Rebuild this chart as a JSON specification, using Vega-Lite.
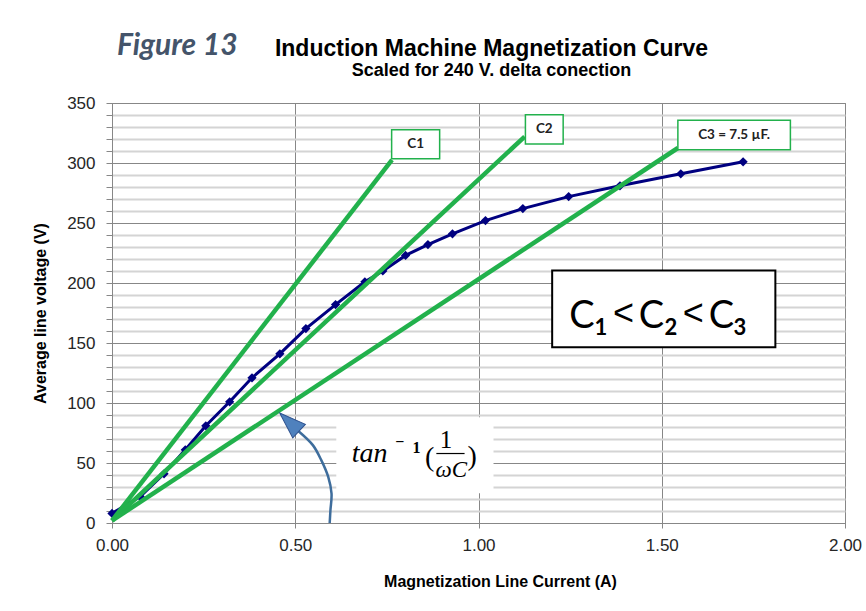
{
  "$schema": "https://vega.github.io/schema/vega-lite/v6.json",
  "autosize": "none",
  "width": 733,
  "height": 420,
  "padding": {"left": 112, "top": 103, "right": 21, "bottom": 88},
  "background": "white",
  "config": {
    "view": {"stroke": "#878787", "strokeWidth": 1},
    "axis": {"labelFont": "Liberation Sans", "titleFont": "Liberation Sans", "labelColor": "#262626", "titleColor": "#000000"}
  },
  "title": {
    "text": "Induction Machine Magnetization Curve",
    "subtitle": "Scaled for 240 V. delta conection",
    "font": "Liberation Sans",
    "fontSize": 23,
    "fontWeight": "bold",
    "color": "#000000",
    "subtitleFont": "Liberation Sans",
    "subtitleFontSize": 18,
    "subtitleFontWeight": "bold",
    "subtitleColor": "#000000",
    "subtitlePadding": 1,
    "anchor": "middle",
    "dx": 13,
    "offset": -49
  },
  "datasets": {
    "curve": [
      {"I": 0.00, "V": 8},
      {"I": 0.077, "V": 22},
      {"I": 0.142, "V": 41},
      {"I": 0.200, "V": 61},
      {"I": 0.256, "V": 81},
      {"I": 0.321, "V": 101},
      {"I": 0.382, "V": 121},
      {"I": 0.458, "V": 141},
      {"I": 0.529, "V": 162},
      {"I": 0.610, "V": 182},
      {"I": 0.690, "V": 201},
      {"I": 0.739, "V": 210},
      {"I": 0.801, "V": 223},
      {"I": 0.862, "V": 232},
      {"I": 0.929, "V": 241},
      {"I": 1.019, "V": 252},
      {"I": 1.121, "V": 262},
      {"I": 1.246, "V": 272},
      {"I": 1.386, "V": 281},
      {"I": 1.552, "V": 291},
      {"I": 1.722, "V": 301}
    ],
    "lines": [
      {"series": "C1", "I": 0, "V": 2},
      {"series": "C1", "I": 0.764, "V": 302.6},
      {"series": "C2", "I": 0, "V": 2},
      {"series": "C2", "I": 1.126, "V": 322},
      {"series": "C3", "I": 0, "V": 2},
      {"series": "C3", "I": 1.544, "V": 312.5}
    ],
    "labels": [
      {"label": "C1", "I1": 0.763, "I2": 0.894, "V1": 303.6, "V2": 327.8, "Ic": 0.8285, "Vc": 315.7},
      {"label": "C2", "I1": 1.128, "I2": 1.231, "V1": 315.9, "V2": 340.3, "Ic": 1.1795, "Vc": 328.1},
      {"label": "C3 = 7.5 µF.", "I1": 1.544, "I2": 1.851, "V1": 311.1, "V2": 335.6, "Ic": 1.6975, "Vc": 323.4}
    ],
    "bigbox": [{"I1": 1.201, "I2": 1.810, "V1": 146.4, "V2": 210.4}],
    "bigC": [
      {"t": "C", "I": 1.282, "V": 162.5},
      {"t": "C", "I": 1.472, "V": 162.5},
      {"t": "C", "I": 1.663, "V": 162.5}
    ],
    "bigLt": [
      {"t": "<", "I": 1.396, "V": 165},
      {"t": "<", "I": 1.586, "V": 165}
    ],
    "subs": [
      {"t": "1", "I": 1.334, "V": 156.5},
      {"t": "2", "I": 1.525, "V": 156.5},
      {"t": "3", "I": 1.713, "V": 156.5}
    ],
    "whitebox": [{"I1": 0.612, "I2": 1.041, "V1": 24.8, "V2": 88.2}],
    "arrow": [
      {"k": 0, "I": 0.509, "V": 76.5},
      {"k": 1, "I": 0.548, "V": 64.9},
      {"k": 2, "I": 0.571, "V": 52.4},
      {"k": 3, "I": 0.590, "V": 38.4},
      {"k": 4, "I": 0.599, "V": 24.5},
      {"k": 5, "I": 0.596, "V": 10.6},
      {"k": 6, "I": 0.594, "V": 0}
    ],
    "arrowhead": [{"I": 0.484, "V": 84.1}],
    "tanmain": [{"t": "tan", "I": 0.703, "V": 50.9}],
    "tansup": [
      {"t": "−", "I": 0.785, "V": 67.1},
      {"t": "1", "I": 0.8306, "V": 62.5}
    ],
    "parens": [
      {"t": "(", "I": 0.867, "V": 53.8},
      {"t": ")", "I": 0.983, "V": 55.3}
    ],
    "num": [{"t": "1", "I": 0.911, "V": 62.1}],
    "den": [{"t": "ωC", "I": 0.926, "V": 38.4}],
    "fracbar": [{"I1": 0.885, "I2": 0.962, "V": 57.9}],
    "fig": [{"t": "Figure 13", "I": 0.178, "V": 390.4}]
  },
  "encoding": {
    "x": {"field": "I", "type": "quantitative", "scale": {"domain": [0, 2], "nice": false}},
    "y": {"field": "V", "type": "quantitative", "scale": {"domain": [0, 350], "nice": false}}
  },
  "layer": [
    {
      "data": {"name": "curve"},
      "mark": {"type": "line", "color": "#000080", "strokeWidth": 3, "point": {"shape": "diamond", "size": 85, "filled": true, "color": "#000080"}},
      "encoding": {
        "x": {
          "field": "I", "type": "quantitative",
          "scale": {"domain": [0, 2], "nice": false},
          "axis": {
            "values": [0, 0.5, 1, 1.5, 2], "format": ".2f",
            "title": "Magnetization Line Current (A)",
            "titleFontSize": 16, "titleFontWeight": "bold",
            "titleX": 388, "titleY": 58, "titleBaseline": "middle",
            "labelFontSize": 17, "labelPadding": 9, "labelFlush": false, "labelOverlap": false,
            "tickSize": 5, "tickColor": "#878787",
            "domainColor": "#878787",
            "grid": true, "gridColor": "#878787", "gridWidth": 1
          }
        },
        "y": {
          "field": "V", "type": "quantitative",
          "scale": {"domain": [0, 350], "nice": false},
          "axis": {
            "values": [0,10,20,30,40,50,60,70,80,90,100,110,120,130,140,150,160,170,180,190,200,210,220,230,240,250,260,270,280,290,300,310,320,330,340,350],
            "tickCount": 40,
            "labelExpr": "datum.value % 50 === 0 ? datum.label : ''",
            "labelFlush": false, "labelOverlap": false,
            "title": "Average line voltage (V)",
            "titleFontSize": 16, "titleFontWeight": "bold", "titlePadding": 18,
            "labelFontSize": 17, "labelPadding": 11,
            "tickSize": 6, "tickColor": "#878787",
            "domainColor": "#878787",
            "grid": true,
            "gridColor": {"condition": {"test": "datum.value % 50 === 0", "value": "#878787"}, "value": "#d4d4d4"},
            "gridWidth": {"condition": {"test": "datum.value % 50 === 0", "value": 1}, "value": 2}
          }
        }
      }
    },
    {
      "data": {"name": "whitebox"},
      "mark": {"type": "rect", "fill": "white"},
      "encoding": {
        "x": {"field": "I1", "type": "quantitative"},
        "x2": {"field": "I2"},
        "y": {"field": "V1", "type": "quantitative"},
        "y2": {"field": "V2"}
      }
    },
    {
      "data": {"name": "lines"},
      "mark": {"type": "line", "color": "#22b14c", "strokeCap": "butt"},
      "encoding": {
        "detail": {"field": "series", "type": "nominal"},
        "strokeWidth": {"field": "series", "type": "nominal", "scale": {"domain": ["C1", "C2", "C3"], "range": [4.5, 4.5, 3]}, "legend": null}
      }
    },
    {
      "data": {"name": "labels"},
      "mark": {"type": "rect", "fill": "white", "stroke": "#22b14c", "strokeWidth": 1.5},
      "encoding": {
        "x": {"field": "I1", "type": "quantitative"},
        "x2": {"field": "I2"},
        "y": {"field": "V1", "type": "quantitative"},
        "y2": {"field": "V2"}
      }
    },
    {
      "data": {"name": "labels"},
      "mark": {"type": "text", "font": "Lato", "fontSize": 13.5, "fontWeight": "bold", "color": "#222222", "align": "center", "baseline": "middle"},
      "encoding": {
        "x": {"field": "Ic", "type": "quantitative"},
        "y": {"field": "Vc", "type": "quantitative"},
        "text": {"field": "label"}
      }
    },
    {
      "data": {"name": "bigbox"},
      "mark": {"type": "rect", "fill": "white", "stroke": "#000000", "strokeWidth": 2},
      "encoding": {
        "x": {"field": "I1", "type": "quantitative"},
        "x2": {"field": "I2"},
        "y": {"field": "V1", "type": "quantitative"},
        "y2": {"field": "V2"}
      }
    },
    {
      "data": {"name": "bigC"},
      "mark": {"type": "text", "font": "Lato", "fontSize": 38, "color": "#000000", "align": "center", "baseline": "alphabetic"},
      "encoding": {"text": {"field": "t"}}
    },
    {
      "data": {"name": "bigLt"},
      "mark": {"type": "text", "font": "Liberation Sans", "fontSize": 36, "color": "#000000", "align": "center", "baseline": "alphabetic"},
      "encoding": {"text": {"field": "t"}}
    },
    {
      "data": {"name": "subs"},
      "mark": {"type": "text", "font": "Lato", "fontSize": 22, "fontWeight": "bold", "color": "#000000", "align": "center", "baseline": "alphabetic"},
      "encoding": {"text": {"field": "t"}}
    },
    {
      "data": {"name": "arrow"},
      "mark": {"type": "line", "color": "#3e6d9c", "strokeWidth": 2.5, "interpolate": "catmull-rom"},
      "encoding": {"order": {"field": "k", "type": "quantitative"}}
    },
    {
      "data": {"name": "arrowhead"},
      "mark": {"type": "point", "shape": "M0,-1L0.7,1L-0.7,1Z", "size": 700, "angle": 313, "filled": true, "fill": "#4f81bd", "stroke": "#2f528f", "strokeWidth": 1, "opacity": 1}
    },
    {
      "data": {"name": "tanmain"},
      "mark": {"type": "text", "font": "Liberation Serif", "fontStyle": "italic", "fontSize": 28, "color": "#000000", "align": "center", "baseline": "alphabetic"},
      "encoding": {"text": {"field": "t"}}
    },
    {
      "data": {"name": "tansup"},
      "mark": {"type": "text", "font": "Liberation Serif", "fontWeight": "bold", "fontSize": 16, "color": "#000000", "align": "center", "baseline": "middle"},
      "encoding": {"text": {"field": "t"}}
    },
    {
      "data": {"name": "parens"},
      "mark": {"type": "text", "font": "Liberation Serif", "fontSize": 28, "color": "#000000", "align": "center", "baseline": "middle"},
      "encoding": {"text": {"field": "t"}}
    },
    {
      "data": {"name": "num"},
      "mark": {"type": "text", "font": "Liberation Serif", "fontSize": 25, "color": "#000000", "align": "center", "baseline": "alphabetic"},
      "encoding": {"text": {"field": "t"}}
    },
    {
      "data": {"name": "den"},
      "mark": {"type": "text", "font": "Liberation Serif", "fontStyle": "italic", "fontSize": 23, "color": "#000000", "align": "center", "baseline": "alphabetic"},
      "encoding": {"text": {"field": "t"}}
    },
    {
      "data": {"name": "fracbar"},
      "mark": {"type": "rule", "color": "#000000", "strokeWidth": 1.2},
      "encoding": {
        "x": {"field": "I1", "type": "quantitative"},
        "x2": {"field": "I2"},
        "y": {"field": "V", "type": "quantitative"}
      }
    },
    {
      "data": {"name": "fig"},
      "mark": {"type": "text", "font": "Lato", "fontStyle": "italic", "fontWeight": "bold", "fontSize": 30, "color": "#44546a", "align": "center", "baseline": "alphabetic", "clip": false},
      "encoding": {"text": {"field": "t"}}
    }
  ]
}
